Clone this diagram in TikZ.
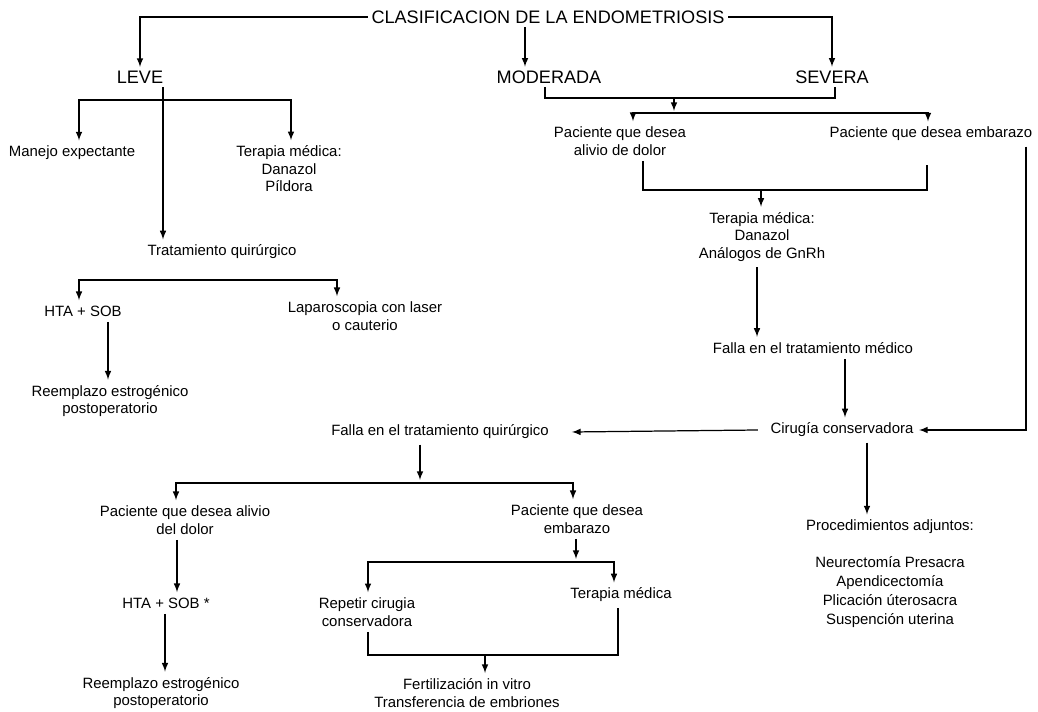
\documentclass[tikz,border=0pt]{standalone}
\usepackage{fontspec}
\setmainfont{Liberation Sans}
\tikzset{
  caja/.style={align=center,font=\fontsize{8.5}{10}\selectfont,inner sep=3pt},
  nivel/.style={font=\fontsize{10.3}{12}\selectfont,inner sep=2pt},
  linea/.style={line width=0.7pt},
  flecha/.style={line width=0.7pt,->,>=latex},
}
\newcommand{\caja}[4]{\node[caja] (#1) at (#2,#3) {#4};}
\newcommand{\nivel}[4]{\node[nivel] (#1) at (#2,#3) {#4};}

\begin{document}
\begin{tikzpicture}[x=0.02cm,y=-0.02cm]
    \useasboundingbox (0,0) rectangle (1038,712);
    % niveles
    \nivel{titulo}{548}{17}{CLASIFICACION DE LA ENDOMETRIOSIS}
    \nivel{leve}{140}{77}{LEVE}
    \nivel{moderada}{549}{77}{MODERADA}
    \nivel{severa}{832}{77}{SEVERA}
    % rama leve
    \caja{manejo}{72}{153}{Manejo expectante}
    \caja{terapiaL}{289}{169}{Terapia médica:\\Danazol\\Píldora}
    \caja{tratamiento}{222}{252}{Tratamiento quirúrgico}
    \caja{hta}{83}{311}{HTA + SOB}
    \caja{lapa}{365}{316}{Laparoscopia con laser\\o cauterio}
    \caja{reemL}{110}{401}{Reemplazo estrogénico\\postoperatorio}
    % moderada y severa
    \caja{pacAlivio}{620}{141}{Paciente que desea\\alivio de dolor}
    \caja{pacEmb}{931}{134}{Paciente que desea embarazo}
    \caja{terapiaR}{762}{237}{Terapia médica:\\Danazol\\Análogos de GnRh}
    \caja{fallaMed}{813}{348}{Falla en el tratamiento médico}
    \caja{cirugia}{842}{430}{Cirugía conservadora}
    \caja{proc}{890}{527}{Procedimientos adjuntos:}
    \node[caja,font=\fontsize{8.5}{10.8}\selectfont] (lista) at (890,592)
      {Neurectomía Presacra\\Apendicectomía\\Plicación úterosacra\\Suspención uterina};
    % falla quirurgica
    \caja{fallaQ}{440}{432}{Falla en el tratamiento quirúrgico}
    \caja{pacAlivio2}{185}{520}{Paciente que desea alivio\\del dolor}
    \caja{pacEmb2}{577}{519}{Paciente que desea\\embarazo}
    \caja{hta2}{166}{603}{HTA + SOB *}
    \caja{reem2}{161}{693}{Reemplazo estrogénico\\postoperatorio}
    \caja{repetir}{367}{612}{Repetir cirugia\\conservadora}
    \caja{terapia2}{621}{595}{Terapia médica}
    \caja{fiv}{467}{693}{Fertilización in vitro\\Transferencia de embriones}

    % conexiones del titulo
    \draw[flecha] (titulo.west) -| (leve.north);
    \draw[flecha] (titulo.east) -| (severa.north);
    \coordinate (jmod) at (525,0);
    \draw[flecha] (titulo.south -| jmod) -- (moderada.north -| jmod);

    % leve
    \coordinate (jl) at (163,100);
    \draw[flecha] (jl) -| (manejo.north -| 79,0);
    \draw[flecha] (jl) -| (terapiaL.north -| 291,0);
    \draw[flecha] (leve.south -| jl) -- (tratamiento.north -| jl);
    \coordinate (jt) at (200,280);
    \draw[flecha] (jt) -| (hta.north -| 79,0);
    \draw[flecha] (jt) -| (lapa.north -| 337,0);
    \draw[flecha] (hta.south -| 108,0) -- (reemL.north -| 108,0);

    % moderada y severa
    \coordinate (jms) at (674,98);
    \draw[linea] (moderada.south -| 545,0) |- (jms) -| (severa.south -| 835,0);
    \coordinate (jpac) at (674,113);
    \draw[flecha] (jms) -- (674,111);
    \draw[flecha] (jpac) -| (pacAlivio.north -| 633,0);
    \draw[flecha] (jpac) -| (pacEmb.north -| 928,0);
    \coordinate (jter) at (761,190);
    \coordinate (jemb) at (927,165);
    \draw[linea] (pacAlivio.south -| 643,0) |- (jter) -| (jemb);
    \draw[flecha] (jter) -- (terapiaR.north -| jter);
    \draw[flecha] (terapiaR.south -| 757,0) -- (fallaMed.north -| 757,0);
    \draw[flecha] (fallaMed.south -| 845,0) -- (cirugia.north -| 845,0);
    \draw[flecha] (pacEmb.south -| 1026,0) |- (cirugia.east);
    \draw[flecha] ([xshift=-4pt]cirugia.west) -- ([xshift=10pt]fallaQ.east);
    \draw[flecha] (cirugia.south -| 867,0) -- (proc.north -| 867,0);

    % falla en el tratamiento quirurgico
    \coordinate (jq) at (420,483);
    \draw[flecha] (fallaQ.south -| jq) -- (420,480);
    \draw[flecha] (jq) -| (pacAlivio2.north -| 176,0);
    \draw[flecha] (jq) -| (pacEmb2.north -| 573,0);
    \draw[flecha] (pacAlivio2.south -| 177,0) -- (hta2.north -| 177,0);
    \draw[flecha] (hta2.south -| 165,0) -- (reem2.north -| 165,0);
    \coordinate (je) at (576,562);
    \draw[flecha] (pacEmb2.south -| je) -- (576,559);
    \draw[flecha] (je) -| (repetir.north -| 368,0);
    \draw[flecha] (je) -| (terapia2.north -| 614,0);
    \coordinate (jf) at (485,655);
    \draw[linea] (repetir.south -| 368,0) |- (jf) -| (terapia2.south -| 618,0);
    \draw[flecha] (jf) -- (fiv.north -| jf);
\end{tikzpicture}
\end{document}
